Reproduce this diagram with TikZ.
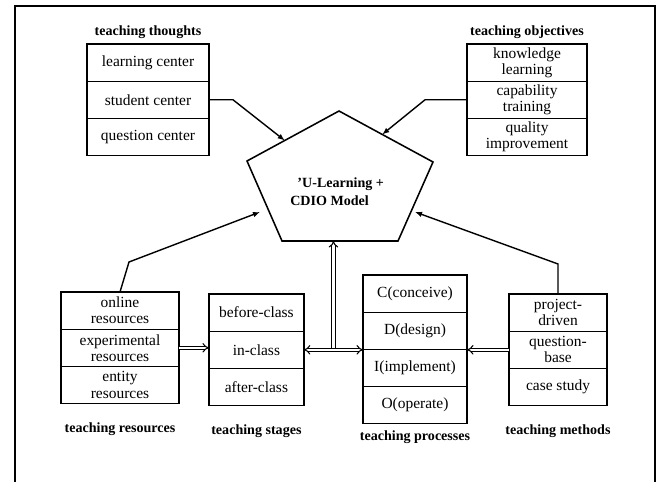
\documentclass[tikz,border=0pt]{standalone}
\usepackage{fontspec}
\setmainfont{Liberation Serif}
\usetikzlibrary{positioning,arrows.meta,calc}
\tikzset{
  cell/.style={draw, line width=0.9pt, inner sep=0pt, outer sep=0pt, minimum height=0.93cm,
    align=center, font=\fontsize{11}{11.5}\selectfont},
  title/.style={font=\fontsize{10}{12}\selectfont\bfseries, inner sep=0pt},
  link/.style={line width=1pt, -{Latex[length=5pt,width=4pt]}},
  dbl/.style={double, double distance=1.5pt, line width=0.75pt, -{Implies}},
}
\begin{document}
\begin{tikzpicture}
\useasboundingbox (0,0) rectangle (16.525,-12.05);
% Frame
\draw[line width=1.2pt] (0.375,-12.2) -- (0.375,-0.15) -- (16.375,-0.15) -- (16.375,-12.2);

% Teaching thoughts
\node[cell, minimum width=3.05cm, anchor=north] (tt1) at (3.7,-1.1) {learning center};
\node[cell, minimum width=3.05cm, below=0pt of tt1] (tt2) {student center};
\node[cell, minimum width=3.05cm, below=0pt of tt2] (tt3) {question center};
\node[title, above=0.12cm of tt1] (thoughts) {teaching thoughts};

% Teaching objectives
\node[cell, minimum width=3cm, anchor=north] (to1) at (13.175,-1.1) {knowledge\\learning};
\node[cell, minimum width=3cm, below=0pt of to1] (to2) {capability\\training};
\node[cell, minimum width=3cm, below=0pt of to2] (to3) {quality\\improvement};
\node[title, above=0.12cm of to1] (objectives) {teaching objectives};

% Teaching resources
\node[cell, minimum width=2.95cm, anchor=north] (tr1) at (3,-7.3) {online\\resources};
\node[cell, minimum width=2.95cm, below=0pt of tr1] (tr2) {experimental\\resources};
\node[cell, minimum width=2.95cm, below=0pt of tr2] (tr3) {entity\\resources};
\node[title, below=0.47cm of tr3] (resources) {teaching resources};

% Teaching stages
\node[cell, minimum width=2.375cm, anchor=north] (ts1) at (6.41,-7.35) {before-class};
\node[cell, minimum width=2.375cm, below=0pt of ts1] (ts2) {in-class};
\node[cell, minimum width=2.375cm, below=0pt of ts2] (ts3) {after-class};
\node[title, below=0.47cm of ts3] (stages) {teaching stages};

% Teaching processes
\node[cell, minimum width=2.6cm, anchor=north] (tp1) at (10.375,-6.875) {C(conceive)};
\node[cell, minimum width=2.6cm, below=0pt of tp1] (tp2) {D(design)};
\node[cell, minimum width=2.6cm, below=0pt of tp2] (tp3) {I(implement)};
\node[cell, minimum width=2.6cm, below=0pt of tp3] (tp4) {O(operate)};
\node[title, below=0.17cm of tp4] (processes) {teaching processes};

% Teaching methods
\node[cell, minimum width=2.45cm, anchor=north] (tm1) at (13.95,-7.35) {project-\\driven};
\node[cell, minimum width=2.45cm, below=0pt of tm1] (tm2) {question-\\base};
\node[cell, minimum width=2.45cm, below=0pt of tm2] (tm3) {case study};
\node[title, below=0.47cm of tm3] (methods) {teaching methods};

% Model pentagon
\coordinate (p1) at (8.475,-2.775);
\coordinate (p2) at (6.175,-4.025);
\coordinate (p3) at (7.05,-6.025);
\coordinate (p4) at (9.95,-6.025);
\coordinate (p5) at (10.825,-4.05);
\draw[line width=1.1pt] (p1) -- (p2) -- (p3) -- (p4) -- (p5) -- cycle;
\node[font=\fontsize{10}{13}\selectfont\bfseries, align=left, inner sep=0pt, anchor=west] (model)
  at (7.25,-4.8) {\hspace*{0.18cm}'U-Learning +\\CDIO Model};

% Arrows into the model
\coordinate (in1) at ($(p2)!0.41!(p1)$);
\coordinate (in2) at ($(p1)!0.46!(p5)$);
\coordinate (in3) at (6.5,-5.3);
\coordinate (in4) at (10.375,-5.3);
\draw[link] (tt2.east) -- ++(0.6,0) -- (in1);
\draw[link] (to2.west) -- ++(-1.05,0) -- (in2);
\draw[link] (tr1.north) -- ++(0.225,0.75) -- (in3);
\draw[link] (tm1.north) -- ++(0,0.75) -- (in4);

% Double arrows
\draw[dbl] (tr2.east) -- (tr2.east -| ts2.west);
\path (ts2.east) -- (ts2.east -| tp1.west) coordinate[midway] (mid);
\coordinate (top) at (mid |- p3);
\draw[dbl] (mid) -- (top);
\draw[dbl, {Implies}-{Implies}] (ts2.east) -- (ts2.east -| tp1.west);
\draw[dbl] (tm2.west) -- (tm2.west -| tp1.east);
\end{tikzpicture}
\end{document}
